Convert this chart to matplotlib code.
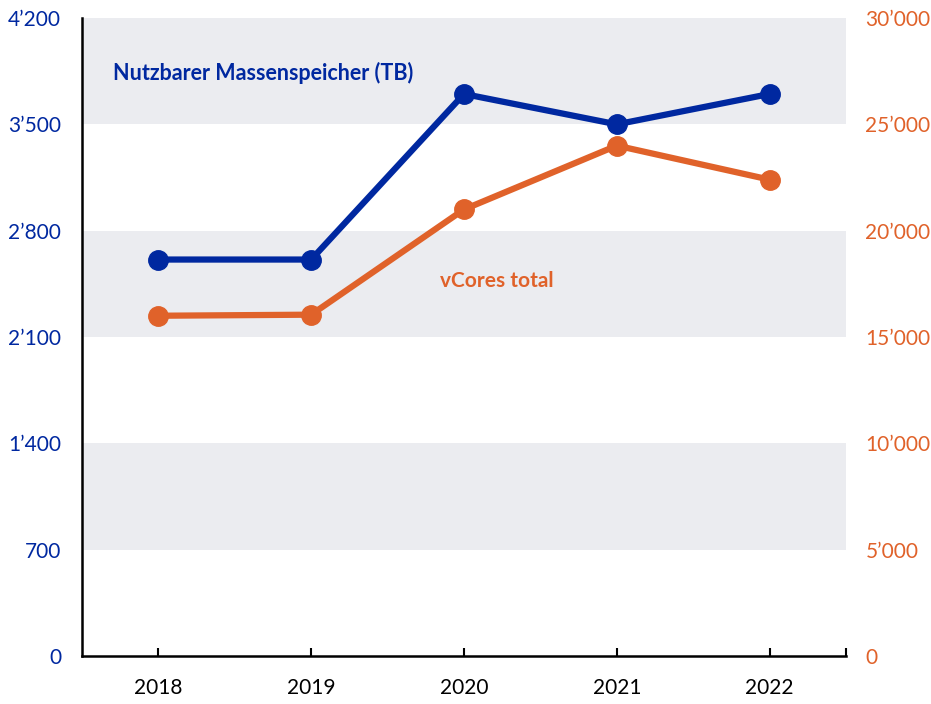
import matplotlib
matplotlib.use("Agg")
import matplotlib.pyplot as plt
from matplotlib.ticker import FuncFormatter

plt.rcParams['font.family'] = ['Lato', 'DejaVu Sans']

years = ["2018", "2019", "2020", "2021", "2022"]
storage_tb = [2610, 2610, 3700, 3500, 3700]
vcores = [16000, 16050, 21000, 24000, 22400]
left_ticks = [0, 700, 1400, 2100, 2800, 3500, 4200]
right_ticks = [0, 5000, 10000, 15000, 20000, 25000, 30000]
bands = [(700, 1400), (2100, 2800), (3500, 4200)]

blue = "#0028A0"
orange = "#E0622A"
band_color = "#EBECF0"

fmt = FuncFormatter(lambda v, p: f"{int(round(v)):,}".replace(",", "\u2019"))

fig = plt.figure(figsize=(9.31, 7.04), dpi=100)
ax = fig.add_axes([0.0881, 0.0682, 0.8206, 0.9062])
x = list(range(len(years)))

for lo, hi in bands:
    ax.axhspan(lo, hi, color=band_color, lw=0, zorder=0)

ax.plot(x, storage_tb, color=blue, lw=4.5, marker="o", ms=14, zorder=3)
ax.set_ylim(0, 4200)
ax.set_xlim(-0.5, 4.5)
ax.set_yticks(left_ticks)
ax.yaxis.set_major_formatter(fmt)
ax.tick_params(axis="y", length=0, labelsize=15, labelcolor=blue, pad=15)
ax.set_xticks(x + [4.5])
ax.set_xticklabels(years + [""])
ax.tick_params(axis="x", direction="in", length=6, width=1.5, labelsize=15, pad=16, colors="black")
for s in ["top", "right"]:
    ax.spines[s].set_visible(False)
ax.spines["left"].set_linewidth(1.8)
ax.spines["bottom"].set_linewidth(1.8)

ax2 = ax.twinx()
ax2.plot(x, vcores, color=orange, lw=4.5, marker="o", ms=14, zorder=3)
ax2.set_ylim(0, 30000)
ax2.set_yticks(right_ticks)
ax2.yaxis.set_major_formatter(fmt)
ax2.tick_params(axis="y", length=0, labelsize=15, labelcolor=orange, pad=14)
for s in ["top", "right", "left", "bottom"]:
    ax2.spines[s].set_visible(False)

ax.text(-0.294, 3838, "Nutzbarer Massenspeicher (TB)", color=blue, fontsize=15.5,
        fontweight="bold", va="center", ha="left")
ax.text(1.843, 2469, "vCores total", color=orange, fontsize=15,
        fontweight="bold", va="center", ha="left")

fig.savefig("out.png", dpi=100)
